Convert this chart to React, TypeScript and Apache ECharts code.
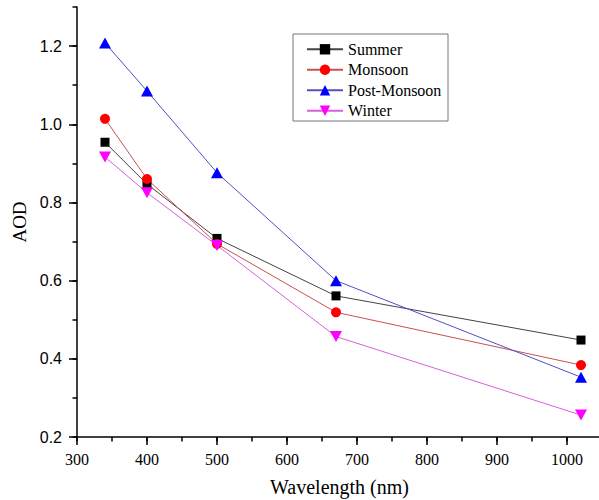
import React, { useEffect, useRef } from "react";
import * as echarts from "echarts";

const wavelengths = [340, 400, 500, 670, 1020];
const summer = [0.954, 0.847, 0.708, 0.561, 0.448];
const monsoon = [1.014, 0.86, 0.694, 0.519, 0.384];
const postMonsoon = [1.208, 1.085, 0.876, 0.6, 0.353];
const winter = [0.916, 0.825, 0.69, 0.457, 0.256];
const seriesNames = ["Summer", "Monsoon", "Post-Monsoon", "Winter"];

const SERIF = "'Liberation Serif', 'Times New Roman', serif";
const SANS = "'Liberation Sans', Arial, sans-serif";

export default function App() {
  const ref = useRef<HTMLDivElement>(null);
  useEffect(() => {
    if (!ref.current) return;
    const chart = echarts.init(ref.current, null, { renderer: "svg" });
    const pts = (vals: number[]) => wavelengths.map((w, i) => [w, vals[i]]);
    const tickStyle = { color: "#000", width: 1.5 };
    const option: any = {
      animation: false,
      backgroundColor: "#fff",
      grid: {
        left: 77,
        right: -3,
        top: 7,
        bottom: 63,
        containLabel: false,
        outerBoundsMode: "none",
      },
      xAxis: [
        {
          type: "value",
          min: 300,
          max: 1050,
          interval: 100,
          position: "bottom",
          name: "Wavelength (nm)",
          nameLocation: "middle",
          nameGap: 40,
          nameTextStyle: { fontFamily: SERIF, fontSize: 20, color: "#000" },
          axisLine: { show: true, onZero: false, lineStyle: { color: "#000", width: 1.5 } },
          axisTick: { show: true, length: 8, inside: false, lineStyle: tickStyle },
          axisLabel: {
            fontFamily: SERIF,
            fontSize: 16,
            color: "#000",
            margin: 14,
            showMaxLabel: false,
            formatter: (v: number) => String(Math.round(v)),
          },
          splitLine: { show: false },
        },
        {
          type: "value",
          min: 300,
          max: 1050,
          interval: 50,
          position: "bottom",
          axisLine: { show: false, onZero: false },
          axisTick: { show: true, length: 4.5, inside: false, lineStyle: tickStyle },
          axisLabel: { show: false },
          splitLine: { show: false },
        },
      ],
      yAxis: [
        {
          type: "value",
          min: 0.2,
          max: 1.3,
          interval: 0.2,
          position: "left",
          name: "AOD",
          nameLocation: "middle",
          nameGap: 46,
          nameTextStyle: { fontFamily: SERIF, fontSize: 19, color: "#000" },
          axisLine: { show: true, onZero: false, lineStyle: { color: "#000", width: 1.5 } },
          axisTick: { show: true, length: 8, inside: false, lineStyle: tickStyle },
          axisLabel: {
            fontFamily: SANS,
            fontSize: 16,
            color: "#000",
            margin: 15,
            showMaxLabel: false,
            formatter: (v: number) => v.toFixed(1),
          },
          splitLine: { show: false },
        },
        {
          type: "value",
          min: 0.2,
          max: 1.3,
          interval: 0.1,
          position: "left",
          axisLine: { show: false, onZero: false },
          axisTick: { show: true, length: 4.5, inside: false, lineStyle: tickStyle },
          axisLabel: { show: false },
          splitLine: { show: false },
        },
      ],
      legend: {
        orient: "vertical",
        left: 306,
        top: 41.3,
        padding: 0,
        itemWidth: 36,
        itemHeight: 13,
        itemGap: 4.5,
        selectedMode: false,
        textStyle: { fontFamily: SERIF, fontSize: 16, color: "#000", lineHeight: 16 },
        data: seriesNames,
      },
      graphic: [
        {
          type: "rect",
          shape: { x: 293, y: 34, width: 155, height: 87 },
          style: { fill: "none", stroke: "#777", lineWidth: 1 },
        },
      ],
      series: [
        {
          name: seriesNames[0],
          type: "line",
          data: pts(summer),
          symbol: "rect",
          symbolSize: 9,
          itemStyle: { color: "#000" },
          lineStyle: { color: "#444", width: 1 },
          emphasis: { disabled: true },
        },
        {
          name: seriesNames[1],
          type: "line",
          data: pts(monsoon),
          symbol: "circle",
          symbolSize: 10,
          itemStyle: { color: "#ff0000" },
          lineStyle: { color: "#c85050", width: 1 },
          emphasis: { disabled: true },
        },
        {
          name: seriesNames[2],
          type: "line",
          data: pts(postMonsoon),
          symbol: "triangle",
          symbolSize: [12, 11],
          itemStyle: { color: "#0000ff" },
          lineStyle: { color: "#5050c0", width: 1 },
          emphasis: { disabled: true },
        },
        {
          name: seriesNames[3],
          type: "line",
          data: pts(winter),
          symbol: "path://M0,0L12,0L6,11Z",
          symbolSize: [12, 11],
          itemStyle: { color: "#ff00ff" },
          lineStyle: { color: "#d860d8", width: 1 },
          emphasis: { disabled: true },
        },
      ],
    };
    chart.setOption(option);
    return () => chart.dispose();
  }, []);
  return (
    <div
      ref={ref}
      style={{ position: "absolute", left: 0, top: 0, width: 599, height: 500 }}
    />
  );
}
